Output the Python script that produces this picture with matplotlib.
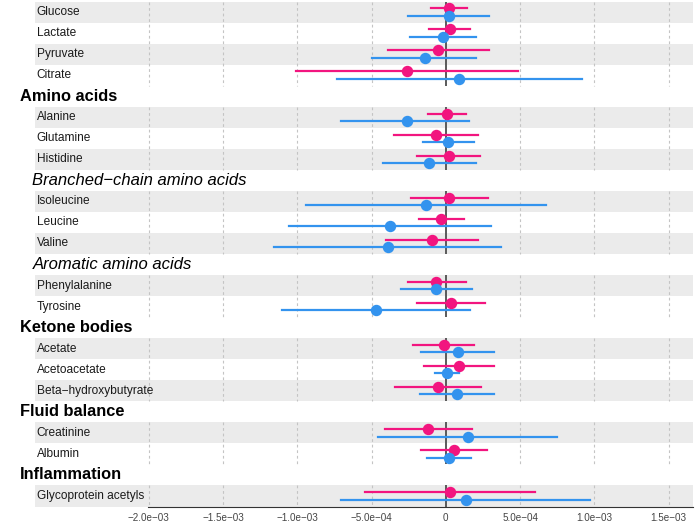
import matplotlib
matplotlib.use('agg')
import matplotlib.pyplot as plt
from matplotlib.patches import Rectangle
from matplotlib.transforms import blended_transform_factory

plt.rcParams['font.family'] = ['Liberation Sans', 'DejaVu Sans']

# groups: (header, header style, row names)
groups = [
    (None, None, ['Glucose', 'Lactate', 'Pyruvate', 'Citrate']),
    ('Amino acids', 'bold', ['Alanine', 'Glutamine', 'Histidine']),
    ('Branched\u2212chain amino acids', 'italic', ['Isoleucine', 'Leucine', 'Valine']),
    ('Aromatic amino acids', 'italic', ['Phenylalanine', 'Tyrosine']),
    ('Ketone bodies', 'bold', ['Acetate', 'Acetoacetate', 'Beta\u2212hydroxybutyrate']),
    ('Fluid balance', 'bold', ['Creatinine', 'Albumin']),
    ('Inflammation', 'bold', ['Glycoprotein acetyls']),
]

# estimates (units of 1e-3), in row order
pink_est = [0.018, 0.030, -0.051, -0.262, 0.009, -0.067, 0.018, 0.023, -0.033, -0.094,
            -0.063, 0.034, -0.015, 0.088, -0.051, -0.117, 0.055, 0.028]
pink_lo = [-0.100, -0.112, -0.390, -1.007, -0.117, -0.352, -0.193, -0.233, -0.181, -0.401,
           -0.255, -0.195, -0.218, -0.150, -0.341, -0.408, -0.166, -0.545]
pink_hi = [0.142, 0.164, 0.288, 0.483, 0.139, 0.216, 0.230, 0.283, 0.119, 0.218,
           0.135, 0.263, 0.189, 0.326, 0.238, 0.178, 0.274, 0.602]
blue_est = [0.018, -0.017, -0.143, 0.092, -0.260, 0.016, -0.112, -0.134, -0.379, -0.390,
            -0.065, -0.471, 0.079, 0.007, 0.072, 0.146, 0.021, 0.135]
blue_lo = [-0.255, -0.238, -0.494, -0.733, -0.706, -0.154, -0.424, -0.942, -1.057, -1.156,
           -0.302, -1.104, -0.166, -0.071, -0.177, -0.455, -0.125, -0.709]
blue_hi = [0.294, 0.200, 0.200, 0.917, 0.158, 0.187, 0.205, 0.674, 0.301, 0.373,
           0.173, 0.162, 0.324, 0.086, 0.321, 0.748, 0.169, 0.968]

xticks = [-2.0e-3, -1.5e-3, -1.0e-3, -5.0e-4, 0, 5.0e-4, 1.0e-3, 1.5e-3]

pink = '#F2157F'
blue = '#3393EE'

W, H = 700, 525
fig = plt.figure(figsize=(7, 5.25), dpi=100)
ax = fig.add_axes([148 / W, 1 - 506.5 / H, (693 - 148) / W, 505 / H])
ax.set_xlim(-2.005e-3, 1.664e-3)
ax.set_ylim(23.5, -0.5)

fig_x = blended_transform_factory(fig.transFigure, ax.transData)

row = 0
k = 0
for header, style, names in groups:
    if header is not None:
        if style == 'bold':
            ax.text(20 / W, row, header, transform=fig_x, fontsize=11.8,
                    fontweight='bold', va='center', ha='left')
        else:
            ax.text(32.5 / W, row, header, transform=fig_x, fontsize=12,
                    fontstyle='italic', va='center', ha='left')
        row += 1
    first = row
    for j, name in enumerate(names):
        if j % 2 == 0:
            ax.add_patch(Rectangle((35 / W, row - 0.5), (693 - 35) / W, 1.0,
                                   transform=fig_x, facecolor='#EBEBEB',
                                   edgecolor='none', zorder=0, clip_on=False))
        ax.text(36.7 / W, row, name, transform=fig_x, fontsize=8.6,
                va='center', ha='left', color='#1a1a1a')
        yp, yb = row - 0.175, row + 0.175
        ax.plot([pink_lo[k] * 1e-3, pink_hi[k] * 1e-3], [yp, yp], color=pink, lw=1.6, zorder=3)
        ax.plot([pink_est[k] * 1e-3], [yp], 'o', color=pink, ms=7.2, zorder=4)
        ax.plot([blue_lo[k] * 1e-3, blue_hi[k] * 1e-3], [yb, yb], color=blue, lw=1.6, zorder=3)
        ax.plot([blue_est[k] * 1e-3], [yb], 'o', color=blue, ms=7.2, zorder=4)
        row += 1
        k += 1
    last = row - 1
    ax.vlines([t for t in xticks if t != 0], first - 0.5, last + 0.5, colors='#C4C4C4',
              linestyles=(0, (2.5, 2.5)), lw=0.8, zorder=1)
    ax.vlines([0], first - 0.5, last + 0.5, colors='#5a5a5a', lw=1.4, zorder=2)

for s in ['top', 'right', 'left']:
    ax.spines[s].set_visible(False)
ax.spines['bottom'].set_color('#333333')
ax.spines['bottom'].set_linewidth(0.8)
ax.set_yticks([])
ax.set_xticks(xticks)
ax.set_xticklabels(['0' if t == 0 else ('%.1e' % t).replace('-', '\u2212') for t in xticks])
ax.tick_params(axis='x', length=0, pad=4.5, labelsize=7.1, labelcolor='#444444')

fig.savefig('out.png', dpi=100)
